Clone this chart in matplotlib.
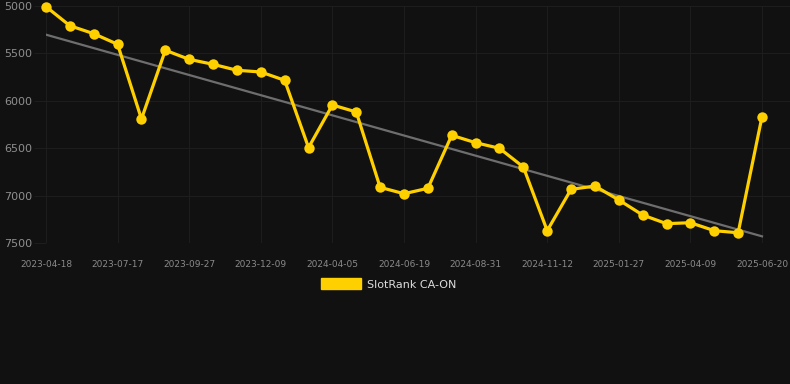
import matplotlib
matplotlib.use("Agg")
import matplotlib.pyplot as plt
import numpy as np
from matplotlib.patches import Patch

# Rank per snapshot (lower on the chart = worse rank)
RANKS = [
    5007, 5208, 5292, 5404, 6192, 5467, 5563, 5615, 5678, 5696,
    5784, 6494, 6044, 6118, 6913, 6980, 6923, 6364, 6442, 6501,
    6698, 7370, 6934, 6899, 7046, 7205, 7296, 7286, 7370, 7392,
    6167,
]
TICK_LABELS = [
    "2023-04-18", "2023-07-17", "2023-09-27", "2023-12-09", "2024-04-05",
    "2024-06-19", "2024-08-31", "2024-11-12", "2025-01-27", "2025-04-09",
    "2025-06-20",
]
Y_TICKS = [5000, 5500, 6000, 6500, 7000, 7500]
SERIES_NAME = "SlotRank CA-ON"

BG = "#111111"
YELLOW = "#FFD000"


def main() -> None:
    x = np.arange(len(RANKS))
    y = np.asarray(RANKS, dtype=float)
    slope, intercept = np.polyfit(x, y, 1)

    fig = plt.figure(figsize=(7.9, 3.84), dpi=100, facecolor=BG)
    ax = fig.add_axes([46 / 790, 1 - 243 / 384, 1 - 46 / 790, 237 / 384])
    ax.set_facecolor(BG)

    ax.plot(x, slope * x + intercept, color="#6e6e6e", linewidth=1.6, zorder=2)
    ax.plot(x, y, color=YELLOW, linewidth=2.3, marker="o", markersize=7.5,
            markeredgewidth=0, zorder=3, clip_on=False)

    ax.set_ylim(7500, 5000)
    ax.set_xlim(0, len(RANKS) - 1 + 28 / 23.87)
    ax.set_yticks(Y_TICKS)
    ax.set_xticks(x[::3])
    ax.set_xticklabels(TICK_LABELS)

    ax.grid(True, color="#1d1d1d", linewidth=0.8)
    ax.set_axisbelow(True)
    for side in ax.spines.values():
        side.set_visible(False)
    ax.tick_params(axis="y", length=9, color="#1d1d1d", labelsize=8,
                   labelcolor="#8f8f8f", pad=1)
    ax.tick_params(axis="x", length=0, labelsize=6.5, labelcolor="#8a8a8a", pad=12)

    handle = Patch(facecolor=YELLOW, edgecolor=YELLOW)
    fig.legend([handle], [SERIES_NAME], loc="center", bbox_to_anchor=(0.492, 1 - 284 / 384),
               frameon=False, fontsize=8, labelcolor="#dddddd",
               handlelength=3.6, handleheight=1.1, handletextpad=0.6)

    fig.savefig("out.png", dpi=100, facecolor=BG)


if __name__ == "__main__":
    main()
